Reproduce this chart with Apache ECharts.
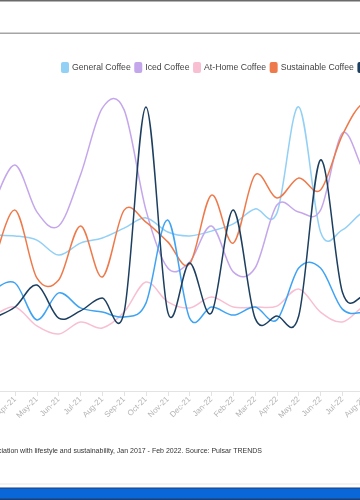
<!DOCTYPE html>
<html>
<head>
<meta charset="utf-8">
<script src="https://cdn.jsdelivr.net/npm/echarts@6/dist/echarts.min.js"></script>
<style>
html,body{margin:0;padding:0;background:#fff;}
#chart{width:360px;height:500px;}
</style>
</head>
<body>
<div id="chart"></div>
<script>
var categories = ['Mar-21','Apr-21','May-21','Jun-21','Jul-21','Aug-21','Sep-21','Oct-21','Nov-21','Dec-21','Jan-22','Feb-22','Mar-22','Apr-22','May-22','Jun-22','Jul-22','Aug-22','Sep-22'];
var generalCoffee     = [52.0,51.7,50.3,45.3,49.3,51.0,54.3,57.7,53.0,51.7,53.3,55.7,60.7,59.3,94.7,53.0,53.7,59.7,57.7];
var icedCoffee        = [62.0,75.3,59.7,55.0,72.0,94.3,93.7,60.3,41.0,43.0,55.0,39.7,41.0,62.0,59.7,60.3,86.0,73.0,63.7];
var atHomeCoffee      = [25.0,28.0,21.7,19.0,23.0,21.0,26.3,36.3,29.7,27.7,31.3,28.0,28.0,28.3,34.0,26.3,23.0,28.3,30.3];
var sustainableCoffee = [42.0,60.3,37.7,37.0,55.0,38.0,60.3,56.3,49.7,42.3,65.3,49.3,72.0,64.3,71.0,67.0,85.3,96.0,90.3];
var specialtyCoffee   = [24.3,28.0,35.3,24.3,26.7,31.0,26.3,94.7,26.3,42.7,26.0,60.3,24.3,25.0,25.0,77.0,33.0,31.7,33.7];
var coldBrewCoffee    = [33.7,36.0,23.7,32.7,27.7,26.3,24.7,29.3,57.0,24.3,28.0,25.3,28.0,23.7,41.0,41.0,27.3,26.3,28.3];
var seriesNames = ['General Coffee','Iced Coffee','At-Home Coffee','Sustainable Coffee','Specialty Coffee','Cold Brew Coffee'];
var seriesColors = ['#93d0f6','#c4a7eb','#f8bfd3','#ee7a4b','#1c3e5f','#3fa3f4'];
var seriesData = [generalCoffee, icedCoffee, atHomeCoffee, sustainableCoffee, specialtyCoffee, coldBrewCoffee];
var captionText = 'association with lifestyle and sustainability, Jan 2017 - Feb 2022. Source: Pulsar TRENDS';

var FONT = 'Liberation Sans, Arial, sans-serif';
var chart = echarts.init(document.getElementById('chart'), null, {renderer:'canvas'});

// Cardinal (Catmull-Rom) spline through the points given by the axes' own scales
function splineSeries(name, values, color, z){
  return {
    type:'custom', name:name, coordinateSystem:'cartesian2d',
    data:[[0, values[0]]], encode:{x:0, y:1}, clip:true, z:z,
    itemStyle:{color:color},
    renderItem:function(params, api){
      var pts = values.map(function(v,i){ return api.coord([i, v]); });
      var d = 'M' + pts[0][0] + ' ' + pts[0][1];
      for (var i = 0; i < pts.length - 1; i++){
        var p0 = pts[i-1] || pts[i], p1 = pts[i], p2 = pts[i+1], p3 = pts[i+2] || pts[i+1];
        var c1x = p1[0] + (p2[0]-p0[0])/6, c1y = p1[1] + (p2[1]-p0[1])/6;
        var c2x = p2[0] - (p3[0]-p1[0])/6, c2y = p2[1] - (p3[1]-p1[1])/6;
        d += ' C' + c1x + ' ' + c1y + ' ' + c2x + ' ' + c2y + ' ' + p2[0] + ' ' + p2[1];
      }
      return {type:'path', shape:{pathData:d}, style:{fill:null, stroke:color, lineWidth:1.5, lineJoin:'round'}};
    }
  };
}
var series = seriesNames.map(function(n,i){ return splineSeries(n, seriesData[i], seriesColors[i], i===4 ? 5 : 2); });

chart.setOption({
  animation:false,
  color: seriesColors,
  textStyle:{fontFamily:FONT},
  legend:{
    left:61, top:62, width:2000, padding:0,
    icon:'roundRect', itemWidth:8, itemHeight:11, itemGap:3.5,
    textStyle:{fontSize:8.7, color:'#444', padding:[0,0,0,-2]},
    data: seriesNames
  },
  grid:{left:-6.8, right:-26, top:91, bottom:109, outerBoundsMode:'none', containLabel:false},
  xAxis:{
    type:'category', data:categories, boundaryGap:false,
    axisLine:{lineStyle:{color:'#e3e3e3'}},
    axisTick:{show:true, length:5, lineStyle:{color:'#e3e3e3'}},
    axisLabel:{interval:0, rotate:45, color:'#b4b4b4', fontSize:8, margin:7}
  },
  yAxis:{type:'value', min:0, max:100, show:false, splitLine:{show:false}},
  series: series,
  graphic:[
    {type:'rect', shape:{x:0,y:0,width:360,height:1.5}, style:{fill:'#6a6a6a'}, silent:true},
    {type:'rect', shape:{x:0,y:32.5,width:360,height:1.5}, style:{fill:'#a5a5a5'}, silent:true},
    {type:'rect', shape:{x:0,y:483.5,width:360,height:1}, style:{fill:'#e8e8e8'}, silent:true},
    {type:'rect', shape:{x:0,y:488,width:360,height:11}, style:{fill:'#0967d8'}, silent:true},
    {type:'rect', shape:{x:0,y:487.5,width:360,height:1}, style:{fill:'#1e3f73'}, silent:true},
    {type:'rect', shape:{x:0,y:498.5,width:360,height:1.5}, style:{fill:'#1e3f73'}, silent:true},
    {type:'text', x:262, y:451, style:{text:captionText, fontSize:7, fill:'#333', align:'right', verticalAlign:'middle', fontFamily:FONT}, silent:true}
  ]
});
</script>
</body>
</html>
